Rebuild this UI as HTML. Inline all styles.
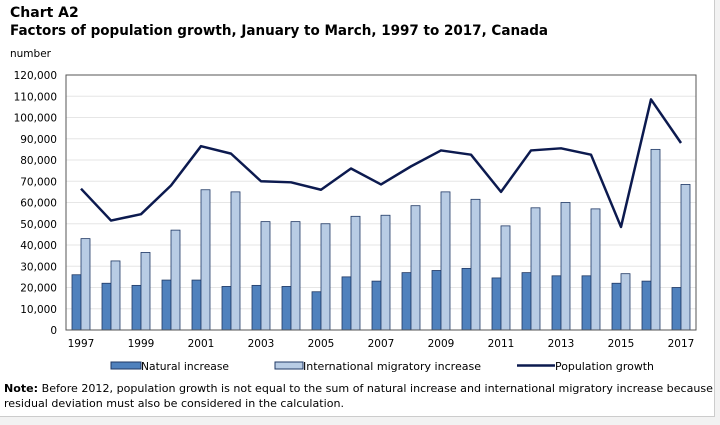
<!DOCTYPE html>
<html><head><meta charset="utf-8"><style>
body{margin:0;width:720px;height:425px;background:#f2f2f2;overflow:hidden;font-family:"DejaVu Sans","Liberation Sans",sans-serif;}
#box{position:absolute;left:0;top:0;width:714px;height:416px;background:#fff;border:1px solid #ccc;border-left:none;border-top:none;}
</style></head><body>
<div id="box">
<svg id="chart" width="720" height="425" xmlns="http://www.w3.org/2000/svg" style="position:absolute;left:0;top:0">
<text x="10" y="17" font-size="14" font-weight="bold" fill="#000">Chart A2</text>
<text x="10" y="35" font-size="14" font-weight="bold" fill="#000" textLength="538" lengthAdjust="spacingAndGlyphs">Factors of population growth, January to March, 1997 to 2017, Canada</text>
<text x="10" y="57" font-size="10.5" fill="#000">number</text>
<g id="grid"></g><g id="bars"></g><g id="line"></g><g id="axes"></g>
<g>
<rect x="111" y="362" width="30" height="7" fill="#4f81bd" stroke="#1f3864"/>
<text x="141" y="370" font-size="11" textLength="88" lengthAdjust="spacingAndGlyphs">Natural increase</text>
<rect x="275" y="362" width="28" height="7" fill="#b8cce4" stroke="#1f3864"/>
<text x="303" y="370" font-size="11" textLength="178" lengthAdjust="spacingAndGlyphs">International migratory increase</text>
<line x1="517" y1="365.5" x2="555" y2="365.5" stroke="#0c1a4f" stroke-width="2.5"/>
<text x="555" y="370" font-size="11" textLength="99" lengthAdjust="spacingAndGlyphs">Population growth</text>
</g>
<text x="4" y="392" font-size="11" textLength="709" lengthAdjust="spacingAndGlyphs"><tspan font-weight="bold">Note:</tspan> Before 2012, population growth is not equal to the sum of natural increase and international migratory increase because</text>
<text x="4" y="407" font-size="11" textLength="340" lengthAdjust="spacingAndGlyphs">residual deviation must also be considered in the calculation.</text>
</svg></div>
<script>
const years=[1997,1998,1999,2000,2001,2002,2003,2004,2005,2006,2007,2008,2009,2010,2011,2012,2013,2014,2015,2016,2017];
const natural=[26000,22000,21000,23500,23500,20500,21000,20500,18000,25000,23000,27000,28000,29000,24500,27000,25500,25500,22000,23000,20000];
const international=[43000,32500,36500,47000,66000,65000,51000,51000,50000,53500,54000,58500,65000,61500,49000,57500,60000,57000,26500,85000,68500];
const population=[66500,51500,54500,68000,86500,83000,70000,69500,66000,76000,68500,77000,84500,82500,65000,84500,85500,82500,48500,108500,88000];
const yTicks=[0,10000,20000,30000,40000,50000,60000,70000,80000,90000,100000,110000,120000];
const NS="http://www.w3.org/2000/svg";
const L=66,R=696,T=75,B=330,yMax=120000;
const y=v=>B-(v/yMax)*(B-T);
const band=(R-L)/years.length;
const xc=i=>L+band*(i+0.5);
function mk(t,a,p){const e=document.createElementNS(NS,t);for(const k in a)e.setAttribute(k,a[k]);document.querySelector(p).appendChild(e);return e;}
yTicks.forEach(v=>{
  if(v>0){const g=mk('line',{x1:L,x2:R,y1:y(v),y2:y(v),stroke:'#e6e6e6','stroke-width':1},'#grid');
  
  }
  const t=mk('text',{x:57,y:y(v)+4,'font-size':10.5,'text-anchor':'end'},'#axes');t.textContent=v.toLocaleString('en-US');
  
  
});
years.forEach((yr,i)=>{
  const c=xc(i);
  const b1=mk('rect',{x:c-9,y:y(natural[i]),width:9,height:B-y(natural[i]),fill:'#4f81bd',stroke:'#1f3864','stroke-width':0.8},'#bars');
  
  
  const b2=mk('rect',{x:c,y:y(international[i]),width:9,height:B-y(international[i]),fill:'#b8cce4',stroke:'#1f3864','stroke-width':0.8},'#bars');
  
  
  if(i%2===0){const t=mk('text',{x:c,y:347,'font-size':10.5,'text-anchor':'middle'},'#axes');t.textContent=yr;
  
  }
});
const pl=mk('polyline',{points:population.map((v,i)=>xc(i)+','+y(v)).join(' '),fill:'none',stroke:'#0c1a4f','stroke-width':2.5,'stroke-linejoin':'round'},'#line');


const fr=mk('rect',{x:L,y:T,width:R-L,height:B-T,fill:'none',stroke:'#555','stroke-width':1},'#axes');


</script>
</body></html>
